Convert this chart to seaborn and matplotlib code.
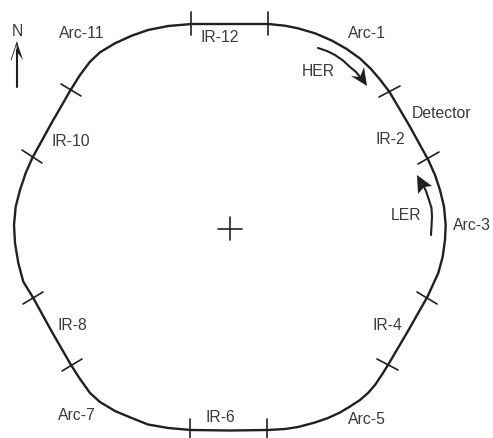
import matplotlib
matplotlib.use("Agg")
import matplotlib.pyplot as plt
import pandas as pd
import seaborn as sns

sns.set_theme(style="white")
plt.rcParams['font.family'] = ['Liberation Sans', 'DejaVu Sans']

ring_x = [191.5, 230, 268.3, 285, 298, 315, 331.7, 346.7, 360, 371, 380, 389.5,
          409, 428.3, 435, 440, 444, 445.7, 445, 442.7, 438.3, 427.3,
          408, 388, 381.7, 375, 368, 360, 350, 340, 328, 315, 298, 285, 268,
          230, 191, 168.3, 148, 131.7, 115, 100, 90, 80, 71,
          52, 33.3, 23.3, 18.3, 15, 14, 15.7, 20, 25.7, 32.3,
          51, 70, 80, 90, 100, 115, 131.7, 148, 168.3, 191.5]
ring_y = [24, 24, 24, 25.7, 28.3, 33.3, 40.5, 49, 58.5, 69, 79.5, 92,
          125, 160, 175, 190, 206.7, 225, 240, 256.7, 273, 297,
          331, 365, 375, 385, 393, 400, 406.5, 412.5, 418, 422.5, 427, 429, 430,
          430.5, 430, 428, 424.5, 418, 411, 402, 393, 379, 365,
          332, 298, 281.7, 263, 243, 225, 206.7, 190, 173, 158,
          124, 91, 75, 61.7, 52.3, 43.3, 35.7, 30, 26, 24]

tick_x0 = [191, 268, 379, 418, 417, 377, 267, 190, 62, 23, 22, 61, 218, 230]
tick_y0 = [12, 12, 97, 164, 292, 359, 419, 419, 371, 304, 150, 84, 229, 217]
tick_x1 = [191, 268, 400, 439, 437, 398, 267, 190, 82, 43, 42, 81, 242, 230]
tick_y1 = [35, 35, 86, 152, 304, 370, 438, 438, 359, 292, 163, 96, 229, 240]

her_x = [318, 327, 335, 343, 350, 356, 360]
her_y = [48, 51, 55, 60.5, 67, 72, 77]
ler_x = [431, 432, 431.5, 429, 426, 424]
ler_y = [235, 217, 208, 200, 191, 187]
north_x = [17, 17]
north_y = [87, 50]

her_head_x = [367, 351, 360, 364]
her_head_y = [86, 76, 77, 67]
ler_head_x = [417, 418, 424, 432]
ler_head_y = [175, 194, 187, 186]
north_head_x = [17, 23, 17]
north_head_y = [42, 60, 52]
north_wing_x = [11, 17, 17]
north_wing_y = [60, 42, 52]

labels = ["Arc-1", "HER", "Detector", "IR-2", "LER", "Arc-3", "IR-4", "Arc-5",
          "IR-6", "Arc-7", "IR-8", "IR-10", "Arc-11", "IR-12", "N"]
label_x = [367, 318, 442, 390, 406, 472, 387, 367, 220, 77, 72, 71, 82, 220, 17]
label_y = [33, 71, 113, 139, 215, 225, 325, 420, 417, 415, 325, 142, 33, 38, 31]

INK = "#231f20"
TEXT = "#3a3a3a"

fig = plt.figure(figsize=(4.93, 4.38), dpi=100)
ax = fig.add_axes([0, 0, 1, 1])

ring = pd.DataFrame({"x": ring_x, "y": ring_y})
sns.lineplot(data=ring, x="x", y="y", sort=False, estimator=None, color=INK, lw=1.7, ax=ax)

ticks = pd.DataFrame({
    "x": tick_x0 + tick_x1,
    "y": tick_y0 + tick_y1,
    "tick": list(range(len(tick_x0))) * 2,
})
sns.lineplot(data=ticks, x="x", y="y", units="tick", sort=False, estimator=None,
             color=INK, lw=1.2, ax=ax)

for xs, ys in [(her_x, her_y), (ler_x, ler_y), (north_x, north_y)]:
    sns.lineplot(x=xs, y=ys, sort=False, estimator=None, color=INK, lw=1.5, ax=ax)

ax.fill(her_head_x, her_head_y, color=INK, lw=0)
ax.fill(ler_head_x, ler_head_y, color=INK, lw=0)
ax.fill(north_head_x, north_head_y, color=INK, lw=0)
ax.plot(north_wing_x, north_wing_y, color=INK, lw=0.6)

for text, x, y in zip(labels, label_x, label_y):
    ax.text(x, y, text, ha="center", va="center", fontsize=11.3, color=TEXT)

ax.set_xlim(0, 493)
ax.set_ylim(438, 0)
ax.set_xlabel("")
ax.set_ylabel("")
ax.axis("off")
fig.savefig("out.png", dpi=100, facecolor="white")
